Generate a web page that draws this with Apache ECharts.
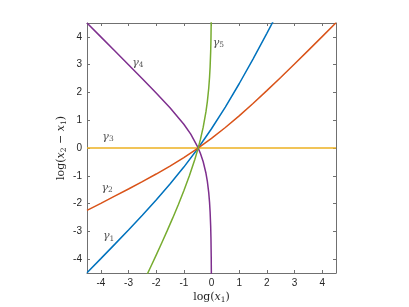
<!DOCTYPE html>
<html><head><meta charset="utf-8">
<script src="https://cdn.jsdelivr.net/npm/echarts@6/dist/echarts.min.js"></script>
<style>html,body{margin:0;padding:0;background:#fff}#c{width:409px;height:307px}</style>
</head><body><div id="c"></div>
<script>
var xTicks = [-4, -3, -2, -1, 0, 1, 2, 3, 4];
var yTicks = [-4, -3, -2, -1, 0, 1, 2, 3, 4];
var gamma1 = [[-4.5,-4.489],[-4,-3.982],[-3.5,-3.470],[-3,-2.951],[-2.5,-2.421],[-2,-1.873],[-1.5,-1.299],[-1,-0.687],[-0.5,-0.026],[0,0.693],[0.5,1.474],[1,2.313],[1.5,3.201],[2,4.127],[2.25,4.600]];
var gamma2 = [[-4.5,-2.245],[-4,-1.991],[-3.5,-1.735],[-3,-1.476],[-2.5,-1.211],[-2,-0.937],[-1.5,-0.649],[-1,-0.344],[-0.5,-0.013],[0,0.347],[0.5,0.737],[1,1.157],[1.5,1.601],[2,2.064],[2.5,2.540],[3,3.024],[3.5,3.515],[4,4.009],[4.5,4.506]];
var gamma3 = [[-4.5,0],[4.5,0]];
var gamma4 = [[-4.5,4.500],[-4,4.000],[-3.5,3.499],[-3,2.998],[-2.5,2.493],[-2,1.982],[-1.5,1.449],[-1,0.855],[-0.75,0.498],[-0.5,0.041],[-0.4,-0.197],[-0.3,-0.496],[-0.2,-0.910],[-0.15,-1.200],[-0.1,-1.608],[-0.07,-1.965],[-0.05,-2.302],[-0.03,-2.813],[-0.02,-3.219],[-0.01,-3.912],[-0.005,-4.605]];
var gamma5 = [[-2.4,-4.705],[-2.2,-4.283],[-2,-3.855],[-1.8,-3.419],[-1.6,-2.975],[-1.4,-2.517],[-1.2,-2.042],[-1,-1.541],[-0.8,-1.003],[-0.6,-0.404],[-0.5,-0.067],[-0.4,0.310],[-0.3,0.750],[-0.2,1.308],[-0.15,1.671],[-0.1,2.152],[-0.07,2.554],[-0.05,2.921],[-0.03,3.462],[-0.02,3.882],[-0.01,4.590]];
var labelNames = ['1','2','3','4','5'];
var labelPos = [[-3.72,-3.17],[-3.77,-1.44],[-3.74,0.40],[-2.66,3.06],[0.25,3.78]];

var colors = ['#0072BD','#D95319','#EDB120','#7E2F8E','#77AC30'];
var curves = [gamma1, gamma2, gamma3, gamma4, gamma5];
var serif = 'DejaVu Serif';
var axisCol = '#707070';
var tickFont = {color:'#262626', fontSize:10, fontFamily:'Liberation Sans'};
var richName = {
  n:{fontFamily:serif, fontSize:11, color:'#262626'},
  i:{fontFamily:serif, fontSize:11, fontStyle:'italic', color:'#262626'},
  s:{fontFamily:serif, fontSize:7.5, color:'#262626', padding:[6,0,0,0]}
};
function mkAxis(type, pos, show){
  return {type:'value', position:pos, min:-4.5, max:4.5, interval:1,
    axisLine:{show:true, onZero:false, lineStyle:{color:axisCol, width:1}},
    axisTick:{show:true, inside:true, length:3, lineStyle:{color:axisCol}, customValues: type==='x'?xTicks:yTicks},
    axisLabel:{show:show, margin:5, customValues: type==='x'?xTicks:yTicks, ...tickFont},
    splitLine:{show:false}};
}
var xB = mkAxis('x','bottom',true);
xB.name = '{n|log(}{i|x}{s|1}{n|)}';
xB.nameLocation='middle'; xB.nameGap=17; xB.nameMoveOverlap=false;
xB.nameTextStyle={rich:richName};
var yL = mkAxis('y','left',true);
yL.name = '{n|log(}{i|x}{s|2}{n| − }{i|x}{s|1}{n|)}';
yL.nameLocation='middle'; yL.nameGap=19; yL.nameRotate=90; yL.nameMoveOverlap=false;
yL.nameTextStyle={rich:richName};

var series = curves.map(function(c,k){
  return {type:'line', data:c, xAxisIndex:0, yAxisIndex:0, showSymbol:false, symbol:'none', clip:true,
    lineStyle:{color:colors[k], width:1.5}, z:k===2?1:2, animation:false};
});
series.push({type:'scatter', data:labelPos.map(function(p,k){return {value:p, name:labelNames[k]};}),
  symbolSize:0, animation:false, silent:true,
  label:{show:true, position:'inside', formatter:function(p){return '{g|γ}{s|'+p.name+'}';},
    rich:{g:{fontFamily:serif, fontStyle:'italic', fontSize:11, color:'#262626'},
          s:{fontFamily:serif, fontSize:7.5, color:'#262626', padding:[5,0,0,0]}}}});

var chart = echarts.init(document.getElementById('c'), null, {renderer:'canvas'});
chart.setOption({
  animation:false,
  grid:{left:87, top:23, width:249, height:250, outerBoundsMode:'none', containLabel:false},
  xAxis:[xB, mkAxis('x','top',false)],
  yAxis:[yL, mkAxis('y','right',false)],
  series:series
});
</script></body></html>
